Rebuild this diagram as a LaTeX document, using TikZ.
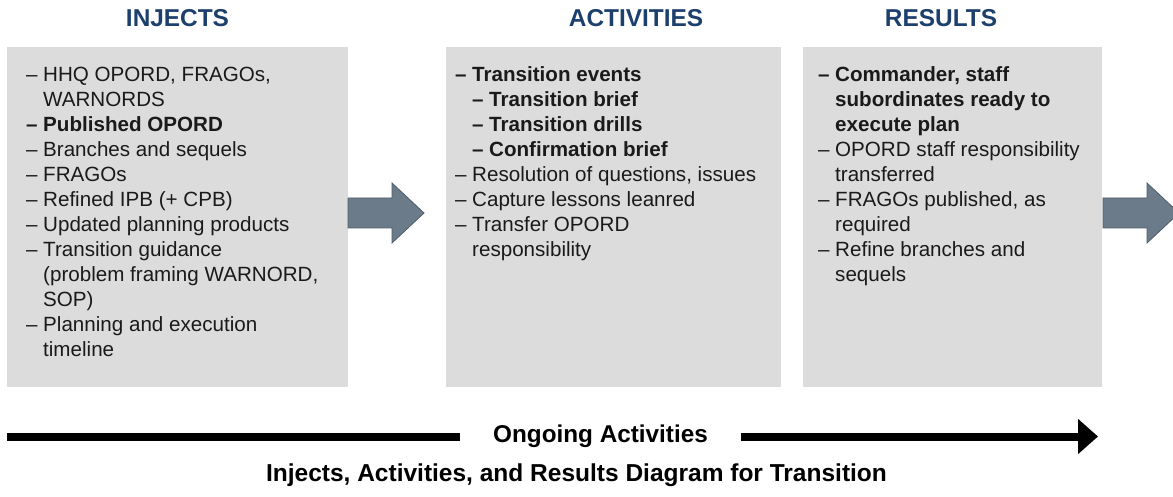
\documentclass[tikz,border=0pt]{standalone}
\usepackage{fontspec}
\setmainfont{Liberation Sans}
\usetikzlibrary{arrows.meta}

\definecolor{headblue}{HTML}{1C3F6E}
\definecolor{panelgray}{HTML}{DCDCDC}
\definecolor{bodytext}{HTML}{1A1A1A}
\definecolor{slatefill}{HTML}{6B7B89}
\definecolor{slateedge}{HTML}{505D69}

% list entries: first level and second level, hanging indent after the dash;
% the optional argument sets the font of the whole entry, dash included
\newcommand\lvlone[2][]{\par\noindent\hangindent=17pt\hangafter=1{#1\makebox[17pt][l]{–}#2}}
\newcommand\lvltwo[2][]{\par\noindent\hangindent=34pt\hangafter=1{#1\hspace*{17pt}\makebox[17pt][l]{–}#2}}

\tikzset{
  panel/.style={fill=panelgray, draw=none, anchor=north west, inner sep=0pt},
  header/.style={text=headblue, font=\fontsize{24.4pt}{28pt}\selectfont\bfseries, anchor=base, inner sep=0pt},
  listtext/.style={text=bodytext, anchor=base west, inner sep=0pt,
    font=\fontsize{20.6pt}{25pt}\selectfont},
  blockarrow/.style={fill=slatefill, draw=slateedge, line width=0.8pt, line join=miter},
  timeline/.style={line width=8pt, draw=black},
  caption/.style={font=\fontsize{24.5pt}{28pt}\selectfont\bfseries, text=black, inner sep=0pt, anchor=base},
}

\begin{document}
\begin{tikzpicture}[x=1pt, y=-1pt]
  \useasboundingbox (0,0) rectangle (1173,497);
  \clip (0,0) rectangle (1173,497);

  % column headings
  \node[header] (hinj) at (177.5,27) {INJECTS};
  \node[header] (hact) at (636,27) {ACTIVITIES};
  \node[header] (hres) at (941,27) {RESULTS};

  % grey panels
  \node[panel, minimum width=341pt, minimum height=340pt] (injects) at (7,47) {};
  \node[panel, minimum width=335pt, minimum height=340pt] (activities) at (446,47) {};
  \node[panel, minimum width=299pt, minimum height=340pt] (results) at (803,47) {};

  % panel contents
  \node[listtext] (injlist) at (26,81.5) {\parbox[t]{320pt}{\raggedright
    \lvlone{HHQ OPORD, FRAGOs,\newline WARNORDS}
    \lvlone[\bfseries]{Published OPORD}
    \lvlone{Branches and sequels}
    \lvlone{FRAGOs}
    \lvlone{Refined IPB (+ CPB)}
    \lvlone{Updated planning products}
    \lvlone{Transition guidance\newline (problem framing WARNORD,\newline SOP)}
    \lvlone{Planning and execution\newline timeline}}};

  \node[listtext] (actlist) at (455,81.5) {\parbox[t]{320pt}{\raggedright
    \lvlone[\bfseries]{Transition events}
    \lvltwo[\bfseries]{Transition brief}
    \lvltwo[\bfseries]{Transition drills}
    \lvltwo[\bfseries]{Confirmation brief}
    \lvlone{Resolution of questions, issues}
    \lvlone{Capture lessons leanred}
    \lvlone{Transfer OPORD\newline responsibility}}};

  \node[listtext] (reslist) at (818,81.5) {\parbox[t]{280pt}{\raggedright
    \lvlone[\bfseries]{Commander, staff\newline subordinates ready to\newline execute plan}
    \lvlone{OPORD staff responsibility\newline transferred}
    \lvlone{FRAGOs published, as\newline required}
    \lvlone{Refine branches and\newline sequels}}};

  % block arrows after the first and the last panel
  \draw[blockarrow] (348,198) -- (392,198) -- (392,183) -- (424,213)
    -- (392,243) -- (392,228) -- (348,228) -- cycle;
  \draw[blockarrow] (1103,198) -- (1147,198) -- (1147,183) -- (1179,213)
    -- (1147,243) -- (1147,228) -- (1103,228) -- cycle;

  % ongoing activities timeline
  \coordinate (tlstart) at (7,436.5);
  \coordinate (tlend) at (1098,436.5);
  \node[font=\fontsize{24.3pt}{28pt}\selectfont\bfseries, inner xsep=33pt, inner ysep=0pt]
    (ongoing) at (600.5,436.5) {Ongoing Activities};
  \draw[timeline] (tlstart) -- (ongoing.west |- tlstart);
  \draw[timeline, -{Triangle[length=20pt, width=34pt]}] (ongoing.east |- tlend) -- (tlend);

  % caption
  \node[caption] (cap) at (576.5,481) {Injects, Activities, and Results Diagram for Transition};
\end{tikzpicture}
\end{document}
